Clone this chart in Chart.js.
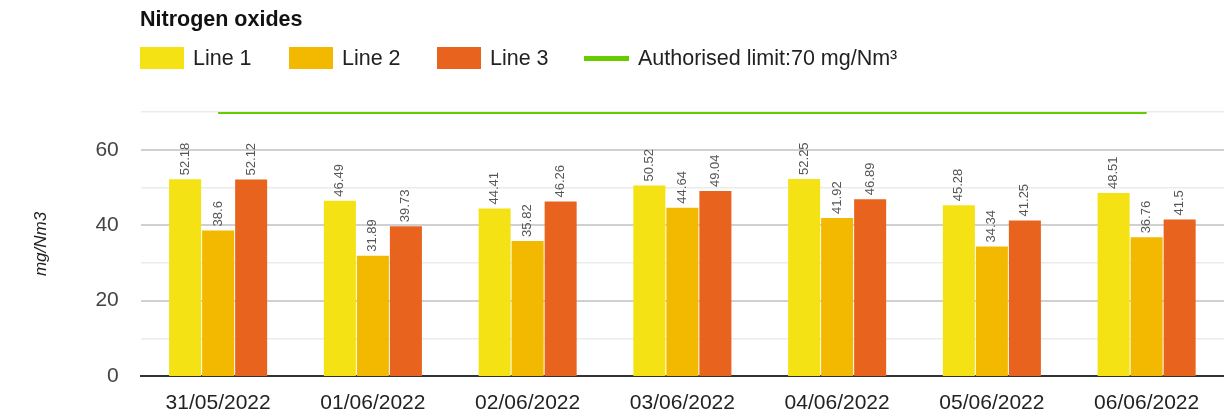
<!DOCTYPE html>
<html>
<head>
<meta charset="utf-8">
<script src="https://cdn.jsdelivr.net/npm/chart.js@4/dist/chart.umd.min.js"></script>
<style>
  html, body { margin: 0; padding: 0; background: #fff; }
  #wrap { position: relative; width: 1224px; height: 417px; font-family: "Liberation Sans", Arial, sans-serif; }
  #title { position: absolute; left: 140px; top: 7px; font-size: 21.5px; font-weight: bold; color: #111; }
  #legend { position: absolute; left: 140px; top: 47px; display: flex; font-size: 21.5px; color: #222; }
  .item { display: flex; align-items: center; height: 22px; }
  .box { width: 44px; height: 22px; margin-right: 9px; }
  .ln { width: 45px; height: 5px; margin-right: 9px; }
</style>
</head>
<body>
<div id="wrap">
  <canvas id="chart" width="1224" height="417"></canvas>
  <div id="title">Nitrogen oxides</div>
  <div id="legend"></div>
</div>
<script>
// DADOS
const categorias = ["31/05/2022", "01/06/2022", "02/06/2022", "03/06/2022", "04/06/2022", "05/06/2022", "06/06/2022"];
const linha1 = [52.18, 46.49, 44.41, 50.52, 52.25, 45.28, 48.51];
const linha2 = [38.6, 31.89, 35.82, 44.64, 41.92, 34.34, 36.76];
const linha3 = [52.12, 39.73, 46.26, 49.04, 46.89, 41.25, 41.5];
const limite = [70, 70, 70, 70, 70, 70, 70];
const yTicks = [0, 20, 40, 60];

const cores = ["#f5e214", "#f2b900", "#e8641e"];
const verde = "#66cc00";

// LEGENDA (HTML)
const legenda = document.getElementById("legend");
const itens = [
    { label: "Line 1", cor: cores[0], w: 149 },
    { label: "Line 2", cor: cores[1], w: 148 },
    { label: "Line 3", cor: cores[2], w: 147 },
    { label: "Authorised limit:70 mg/Nm³", cor: verde, linha: true }
];
itens.forEach(it => {
    const d = document.createElement("div");
    d.className = "item";
    if (it.w) d.style.width = it.w + "px";
    d.innerHTML = '<span class="' + (it.linha ? "ln" : "box") + '" style="background:' + it.cor + '"></span>' + it.label;
    legenda.appendChild(d);
});

// rótulos verticais em cima das barras
const rotulos = {
    id: "rotulos",
    afterDatasetsDraw(chart) {
        const ctx = chart.ctx;
        ctx.save();
        ctx.font = "13px 'Liberation Sans', Arial, sans-serif";
        ctx.fillStyle = "#555";
        ctx.textAlign = "left";
        ctx.textBaseline = "middle";
        chart.data.datasets.forEach((ds, i) => {
            if (ds.type === "line") return;
            chart.getDatasetMeta(i).data.forEach((bar, j) => {
                ctx.save();
                ctx.translate(bar.x, bar.y - 4);
                ctx.rotate(-Math.PI / 2);
                ctx.fillText(String(ds.data[j]), 0, 0);
                ctx.restore();
            });
        });
        ctx.restore();
    }
};

new Chart(document.getElementById("chart"), {
    type: "bar",
    data: {
        labels: categorias,
        datasets: [
            { label: "Limit", type: "line", data: limite, borderColor: verde, borderWidth: 4, pointRadius: 0, fill: false, order: 0 },
            { label: "Line 1", data: linha1, backgroundColor: cores[0], order: 1 },
            { label: "Line 2", data: linha2, backgroundColor: cores[1], order: 1 },
            { label: "Line 3", data: linha3, backgroundColor: cores[2], order: 1 }
        ]
    },
    options: {
        responsive: false,
        animation: false,
        layout: { padding: { top: 112, left: 27, right: 0, bottom: 4 } },
        datasets: { bar: { barPercentage: 0.97, categoryPercentage: 0.64 } },
        plugins: {
            legend: { display: false },
            tooltip: { enabled: false }
        },
        scales: {
            x: {
                afterFit(axis) { axis.height = 37; },
                grid: { display: false },
                border: { color: "#333", width: 2 },
                ticks: { color: "#222", font: { size: 21, family: "'Liberation Sans', Arial" }, padding: 7, maxRotation: 0 }
            },
            y: {
                min: 0,
                max: 70,
                afterBuildTicks(axis) {
                    axis.ticks = [0, 10, 20, 30, 40, 50, 60, 70].map(v => ({ value: v }));
                },
                border: { display: false },
                grid: {
                    drawTicks: false,
                    color: c => (yTicks.includes(c.tick.value) ? "#d0d0d0" : "#ebebeb"),
                    lineWidth: c => (c.tick.value === 0 ? 0 : yTicks.includes(c.tick.value) ? 2 : 1.5)
                },
                ticks: {
                    color: "#444",
                    font: { size: 21, family: "'Liberation Sans', Arial" },
                    padding: 22,
                    callback: v => (yTicks.includes(v) ? v : "")
                },
                title: {
                    display: true,
                    text: "mg/Nm3",
                    color: "#222",
                    font: { size: 17, style: "italic", family: "'Liberation Sans', Arial" },
                    padding: { bottom: 22 }
                }
            }
        }
    },
    plugins: [rotulos]
});
</script>
</body>
</html>
